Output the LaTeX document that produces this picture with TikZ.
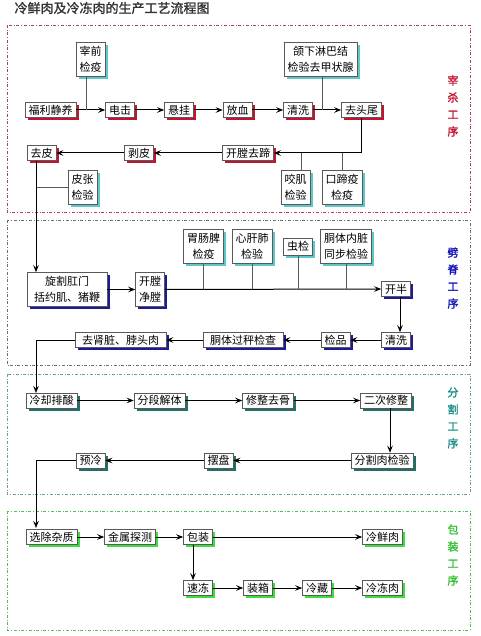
\documentclass[tikz,border=0pt]{standalone}
\usepackage{fontspec}
\usetikzlibrary{shadows, arrows.meta}
\newfontfamily\cjk{Noto Sans CJK SC}
\newfontfamily\cjkbf[FakeBold=1.5]{Noto Sans CJK SC}
\definecolor{killred}{HTML}{C41230}
\definecolor{killframe}{HTML}{B04050}
\definecolor{checkcyan}{HTML}{5CC8C8}
\definecolor{splitblue}{HTML}{1A1A9A}
\definecolor{splitframe}{HTML}{6E6E78}
\definecolor{cutteal}{HTML}{1F6F6A}
\definecolor{cutframe}{HTML}{6A9A9A}
\definecolor{packgreen}{HTML}{3CE03C}
\definecolor{packframe}{HTML}{50C050}
\tikzset{
	box/.style={draw=black!65, fill=white, line width=0.5pt, inner xsep=3.5pt, inner ysep=2pt,
		minimum height=15pt, align=center, font=\cjk\fontsize{11}{16}\selectfont},
	twoline/.style={minimum height=34pt},
	redbox/.style={box, drop shadow={shadow xshift=2.5pt, shadow yshift=-2.5pt, fill=killred, opacity=1}},
	cyanbox/.style={box, twoline, drop shadow={shadow xshift=2.5pt, shadow yshift=-2.5pt, fill=checkcyan, opacity=1}},
	bluebox/.style={box, drop shadow={shadow xshift=2.5pt, shadow yshift=-2.5pt, fill=splitblue, opacity=1}},
	tealbox/.style={box, drop shadow={shadow xshift=2.5pt, shadow yshift=-2.5pt, fill=cutteal, opacity=1}},
	greenbox/.style={box, drop shadow={shadow xshift=2.5pt, shadow yshift=-2.5pt, fill=packgreen, opacity=1}},
	flow/.style={-{Stealth[length=7pt, width=5.5pt, inset=2.5pt]}, line width=1pt},
	tap/.style={draw=black!65, line width=0.7pt},
	stage/.style={dash dot, line width=0.6pt},
	stagename/.style={font=\cjkbf\fontsize{11}{17}\selectfont, align=center},
}
\begin{document}
\begin{tikzpicture}[x=1pt, y=-1pt]
		\useasboundingbox (0, 0) rectangle (480, 636);
		\node[anchor=west, font=\cjkbf\fontsize{13}{15}\selectfont, text=black!80] (title) at (11, 8) {冷鲜肉及冷冻肉的生产工艺流程图};
		\coordinate (spine) at (36, 0);

		\draw[stage, killframe] (7, 25) rectangle (470, 212);
		\draw[stage, splitframe] (7, 220) rectangle (470, 365);
		\draw[stage, cutframe] (7, 374) rectangle (470, 494);
		\draw[stage, packframe] (7, 511) rectangle (470, 630);
		\node[stagename, text=killred] (killname) at (453, 106) {宰\\杀\\工\\序};
		\node[stagename, text=splitblue!70!blue] (splitname) at (453, 278) {劈\\脊\\工\\序};
		\node[stagename, text=cutteal!80!cyan] (cutname) at (453, 418) {分\\割\\工\\序};
		\node[stagename, text=packgreen!85!black] (packname) at (453, 555) {包\\装\\工\\序};

		\node[cyanbox] (zaiqian) at (90.5, 59.5) {宰前\\检疫};
		\node[cyanbox] (hanxia) at (320.5, 59.5) {颌下淋巴结\\检验去甲状腺};
		\node[redbox] (fuli) at (50.5, 110) {福利静养};
		\node[redbox] (dianji) at (120, 110) {电击};
		\node[redbox] (xuangua) at (179, 110) {悬挂};
		\node[redbox] (fangxue) at (237.5, 110) {放血};
		\node[redbox] (qingxia) at (298, 110) {清洗};
		\node[redbox] (qutou) at (361.5, 110) {去头尾};
		\node[redbox] (qupi) at (41.5, 153) {去皮};
		\node[redbox] (bopi) at (139, 153) {剥皮};
		\node[redbox] (kaiti) at (248, 153) {开膛去蹄};
		\node[cyanbox] (pizhang) at (82.5, 187.5) {皮张\\检验};
		\node[cyanbox] (yaoji) at (295.5, 187.5) {咬肌\\检验};
		\node[cyanbox] (kouti) at (342, 187.5) {口蹄疫\\检疫};

		\draw[flow] (fuli) -- (dianji);
		\draw[flow] (dianji) -- (xuangua);
		\draw[flow] (xuangua) -- (fangxue);
		\draw[flow] (fangxue) -- (qingxia);
		\draw[flow] (qingxia) -- (qutou);
		\draw[tap] ([xshift=-4pt]zaiqian.south) -- ([xshift=-4pt]zaiqian.south |- fuli);
		\draw[tap] ([xshift=1.5pt]hanxia.south) -- ([xshift=1.5pt]hanxia.south |- qutou);
		\draw[flow] (qutou) |- (kaiti);
		\draw[flow] (kaiti) -- (bopi);
		\draw[flow] (bopi) -- (qupi);
		\draw[tap] ([xshift=6pt]yaoji.north) -- ([xshift=6pt]yaoji.north |- kaiti);
		\draw[tap] (kouti) -- (kouti |- kaiti);
		\draw[tap] (pizhang) -- (pizhang -| spine);

		\node[bluebox, twoline, minimum width=80pt] (xuange) at (67, 289.5) {旋割肛门\\括约肌、猪鞭};
		\node[bluebox, twoline] (jingtang) at (150, 289.5) {开膛\\净膛};
		\node[bluebox] (kaiban) at (396, 289) {开半};
		\node[cyanbox] (weichang) at (203.5, 246) {胃肠脾\\检疫};
		\node[cyanbox] (xingan) at (252, 246) {心肝肺\\检验};
		\node[cyanbox, minimum height=17pt] (chongjian) at (298, 246.5) {虫检};
		\node[cyanbox] (tongbu) at (346, 246) {胴体内脏\\同步检验};
		\node[bluebox] (qingxib) at (396, 340) {清洗};
		\node[bluebox] (jianpin) at (335.5, 340) {检品};
		\node[bluebox, minimum width=80pt] (guocheng) at (243, 340) {胴体过秤检查};
		\node[bluebox, minimum width=91pt] (qushen) at (120.5, 340) {去肾脏、脖头肉};

		\draw[flow] (qupi.south -| spine) -- (spine |- xuange.north);
		\draw[flow] (xuange) -- (jingtang);
		\draw[flow] (jingtang) -- (kaiban);
		\foreach \n in {weichang, xingan, chongjian, tongbu}
			\draw[tap] (\n) -- (\n |- kaiban);
		\draw[flow] ([xshift=4pt]kaiban.south) -- ([xshift=4pt]kaiban.south |- qingxib.north);
		\draw[flow] (qingxib) -- (jianpin);
		\draw[flow] (jianpin) -- (guocheng);
		\draw[flow] (guocheng) -- (qushen);
		\draw[flow] (qushen) -| (spine |- 0, 393);

		\node[tealbox] (paisuan) at (51.5, 400.5) {冷却排酸};
		\node[tealbox] (fenduan) at (159.5, 400.5) {分段解体};
		\node[tealbox] (qugu) at (268, 400.5) {修整去骨};
		\node[tealbox] (erci) at (386, 400.5) {二次修整};
		\node[tealbox] (fenge) at (382, 460.5) {分割肉检验};
		\node[tealbox] (baipan) at (218.5, 460.5) {摆盘};
		\node[tealbox] (yuleng) at (90.5, 460.5) {预冷};

		\draw[flow] (paisuan) -- (fenduan);
		\draw[flow] (fenduan) -- (qugu);
		\draw[flow] (qugu) -- (erci);
		\draw[flow] ([xshift=4pt]erci.south) -- ([xshift=4pt]erci.south |- fenge.north);
		\draw[flow] (fenge) -- (baipan);
		\draw[flow] (baipan) -- (yuleng);
		\draw[flow] (yuleng) -| (spine |- 0, 528);

		\node[greenbox] (zazhi) at (51.5, 537) {选除杂质};
		\node[greenbox] (jinshu) at (130, 537) {金属探测};
		\node[greenbox] (baozhuang) at (198, 537) {包装};
		\node[greenbox] (lengxian) at (382.5, 537) {冷鲜肉};
		\node[greenbox] (sudong) at (198, 588) {速冻};
		\node[greenbox] (zhuangxiang) at (258, 588) {装箱};
		\node[greenbox] (lengcang) at (317, 588) {冷藏};
		\node[greenbox] (lengdong) at (382.5, 588) {冷冻肉};

		\draw[flow] (zazhi) -- (jinshu);
		\draw[flow] (jinshu) -- (baozhuang);
		\draw[flow] (baozhuang) -- (lengxian);
		\draw[flow] ([xshift=-5pt]baozhuang.south) -- ([xshift=-5pt]baozhuang.south |- sudong.north);
		\draw[flow] (sudong) -- (zhuangxiang);
		\draw[flow] (zhuangxiang) -- (lengcang);
		\draw[flow] (lengcang) -- (lengdong);
	\end{tikzpicture}
\end{document}
